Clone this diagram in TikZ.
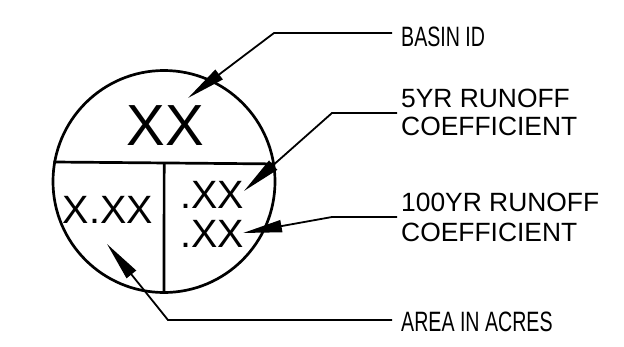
\documentclass[tikz,border=0pt]{standalone}
\usepackage{fontspec}
\setmainfont{Liberation Sans}
\newfontfamily\narrowfont{Liberation Sans}[FakeStretch=0.7]
\usetikzlibrary{arrows.meta,calc}
\tikzset{
  thick line/.style={line width=2.7pt},
  leader/.style={line width=1.8pt, line join=miter, -{Triangle[length=39pt,width=12pt]}},
  bigtext/.style={inner sep=0pt, anchor=base, font=\fontsize{58}{60}\selectfont},
  midtext/.style={inner sep=0pt, anchor=base, font=\fontsize{39.5}{42}\selectfont},
  label/.style={inner sep=0pt, anchor=base west, font=\fontsize{26.4}{29}\selectfont},
  narrowlabel/.style={inner sep=0pt, anchor=base west, font=\narrowfont\fontsize{28}{30}\selectfont}
}
\begin{document}
\begin{tikzpicture}[x=1pt,y=-1pt]
\useasboundingbox (0,0) rectangle (624,346);
% symbol
\node[circle, draw, thick line, minimum size=222pt, inner sep=0pt] (c) at (164,181.5) {};
\coordinate (cl) at (c.170.93);
\coordinate (cr) at (c.9.07);
\coordinate (m) at ($(cl)!0.5!(cr)$);
\draw[thick line] (cl) -- (cr);
\draw[thick line] (m) -- (c.south);
\node[bigtext] (id) at (165,145) {XX};
\node[midtext] (area) at (108,223) {X.XX};
\node[midtext] (c5) at (212,208) {.XX};
\node[midtext] (c100) at (212,247) {.XX};
% labels
\node[narrowlabel] (lbasin) at (401,46) {BASIN ID};
\node[label] (l5a) at (401,107) {5YR RUNOFF};
\node[label] (l5b) at (401,135) {COEFFICIENT};
\node[label] (l100a) at (401,211) {100YR RUNOFF};
\node[label] (l100b) at (401,241) {COEFFICIENT};
\node[narrowlabel] (larea) at (401,331) {AREA IN ACRES};
% leader points
\coordinate (b0) at (392,33);  \coordinate (b1) at (274,33);  \coordinate (b2) at (188,98);
\coordinate (f0) at (397,113); \coordinate (f1) at (332,113); \coordinate (f2) at (244,191);
\coordinate (h0) at (397,217); \coordinate (h1) at (332,217); \coordinate (h2) at (243,233);
\coordinate (a0) at (392,320); \coordinate (a1) at (168,320); \coordinate (a2) at (107,244);
\draw[leader] (b0) -- (b1) -- (b2);
\draw[leader] (f0) -- (f1) -- (f2);
\draw[leader] (h0) -- (h1) -- (h2);
\draw[leader] (a0) -- (a1) -- (a2);
\end{tikzpicture}
\end{document}
